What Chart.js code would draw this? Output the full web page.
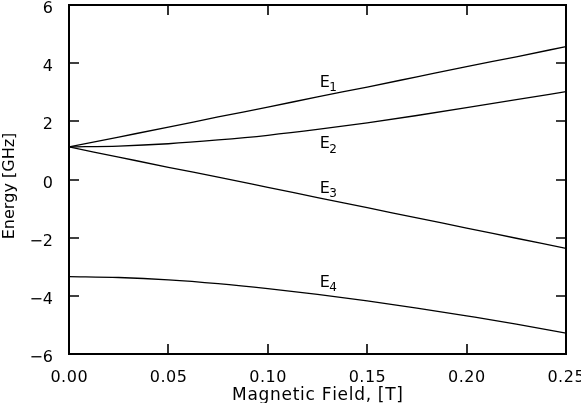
<!DOCTYPE html>
<html>
<head>
<meta charset="utf-8">
<script src="https://cdn.jsdelivr.net/npm/chart.js@4"></script>
<style>
  html, body { margin: 0; padding: 0; background: #fff; }
  #box { width: 581px; height: 403px; }
</style>
</head>
<body>
<div id="box"><canvas id="energyChart" width="581" height="403"></canvas></div>
<script>
// Magnetisches Feld (T) und die vier Energieniveaus (GHz)
const fieldValues = [0, 0.025, 0.05, 0.075, 0.1, 0.125, 0.15, 0.175, 0.2, 0.225, 0.25];
const levelE1 = [1.12, 1.46, 1.80, 2.15, 2.49, 2.84, 3.18, 3.53, 3.88, 4.22, 4.57];
const levelE2 = [1.12, 1.15, 1.23, 1.36, 1.52, 1.72, 1.95, 2.20, 2.47, 2.75, 3.02];
const levelE3 = [1.12, 0.77, 0.42, 0.08, -0.27, -0.62, -0.97, -1.32, -1.67, -2.02, -2.37];
const levelE4 = [-3.34, -3.37, -3.45, -3.58, -3.75, -3.95, -4.17, -4.42, -4.69, -4.97, -5.28];

// Beschriftungen der Kurven (Index + Grundlinie in Datenkoordinaten)
const curveNames = ['1', '2', '3', '4'];
const curveLabelX = [0.1266, 0.1266, 0.1266, 0.1266];
const curveLabelY = [3.19, 1.07, -0.45, -3.69];

const xTitle = 'Magnetic Field, [T]';
const yTitle = 'Energy [GHz]';

const FONT = '"DejaVu Sans", sans-serif';

function toPoints(ys) {
    return fieldValues.map((x, i) => ({ x: x, y: ys[i] }));
}

function lineSet(ys) {
    return {
        data: toPoints(ys),
        borderColor: '#000',
        borderWidth: 1.3,
        pointRadius: 0,
        fill: false,
        cubicInterpolationMode: 'monotone'
    };
}

function fmtX(v) { return v.toFixed(2); }
function fmtY(v) { return v < 0 ? '\u2212' + Math.abs(v) : String(v); }

// Text mit Sperrung, zentriert um cx
function spacedText(ctx, txt, cx, y, spacing) {
    let total = 0;
    const widths = Array.from(txt).map(c => ctx.measureText(c).width);
    widths.forEach(w => total += w);
    total += spacing * (widths.length - 1);
    let x = cx - total / 2;
    Array.from(txt).forEach((c, i) => {
        ctx.fillText(c, x, y);
        x += widths[i] + spacing;
    });
}

// Rahmen, nach innen zeigende Ticks, Beschriftung und Kurvennamen
const framePlugin = {
    id: 'frame',
    afterDraw(chart) {
        const ctx = chart.ctx;
        const a = chart.chartArea;
        const xs = chart.scales.x;
        const ys = chart.scales.y;
        const tl = 10;
        ctx.save();
        ctx.strokeStyle = '#000';
        ctx.lineWidth = 2;
        ctx.strokeRect(a.left, a.top, a.right - a.left, a.bottom - a.top);
        ctx.lineWidth = 1.6;
        ctx.beginPath();
        xs.ticks.forEach(t => {
            const px = Math.round(xs.getPixelForValue(t.value));
            if (px <= a.left + 1 || px >= a.right - 1) return;
            ctx.moveTo(px, a.bottom); ctx.lineTo(px, a.bottom - tl);
            ctx.moveTo(px, a.top); ctx.lineTo(px, a.top + tl);
        });
        ys.ticks.forEach(t => {
            const py = Math.round(ys.getPixelForValue(t.value));
            if (py <= a.top + 1 || py >= a.bottom - 1) return;
            ctx.moveTo(a.left, py); ctx.lineTo(a.left + tl, py);
            ctx.moveTo(a.right, py); ctx.lineTo(a.right - tl, py);
        });
        ctx.stroke();

        ctx.fillStyle = '#000';
        ctx.textBaseline = 'alphabetic';
        ctx.font = '16px ' + FONT;
        ctx.textAlign = 'left';
        xs.ticks.forEach(t => {
            spacedText(ctx, fmtX(t.value), xs.getPixelForValue(t.value), a.bottom + 28, 0.5);
        });
        ctx.textAlign = 'right';
        ys.ticks.forEach(t => {
            ctx.fillText(fmtY(t.value), a.left - 16, ys.getPixelForValue(t.value) + 8);
        });

        // Achsentitel
        ctx.textAlign = 'left';
        ctx.font = '17px ' + FONT;
        spacedText(ctx, xTitle, (a.left + a.right) / 2, 400, 0.7);
        ctx.save();
        ctx.translate(14, 186);
        ctx.rotate(-Math.PI / 2);
        ctx.font = '16px ' + FONT;
        spacedText(ctx, yTitle, 0, 0, 0);
        ctx.restore();

        curveNames.forEach((n, i) => {
            const px = xs.getPixelForValue(curveLabelX[i]);
            const py = ys.getPixelForValue(curveLabelY[i]);
            ctx.font = '16px ' + FONT;
            ctx.fillText('E', px - 1, py);
            ctx.font = '12px ' + FONT;
            ctx.fillText(n, px + 8.5, py + 4.5);
        });
        ctx.restore();
    }
};

const config = {
    type: 'line',
    data: {
        datasets: [lineSet(levelE1), lineSet(levelE2), lineSet(levelE3), lineSet(levelE4)]
    },
    options: {
        responsive: false,
        animation: false,
        layout: { padding: { top: 5, right: 15, left: 0, bottom: 0 } },
        plugins: {
            legend: { display: false },
            tooltip: { enabled: false }
        },
        scales: {
            x: {
                type: 'linear',
                min: 0,
                max: 0.25,
                grid: { display: false, drawTicks: false },
                border: { display: false },
                ticks: { stepSize: 0.05, display: false },
                afterFit: s => { s.height = 49; }
            },
            y: {
                min: -6,
                max: 6,
                grid: { display: false, drawTicks: false },
                border: { display: false },
                ticks: { stepSize: 2, display: false },
                afterFit: s => { s.width = 69; }
            }
        }
    },
    plugins: [framePlugin]
};

const energyChart = new Chart(document.getElementById('energyChart'), config);
</script>
</body>
</html>
